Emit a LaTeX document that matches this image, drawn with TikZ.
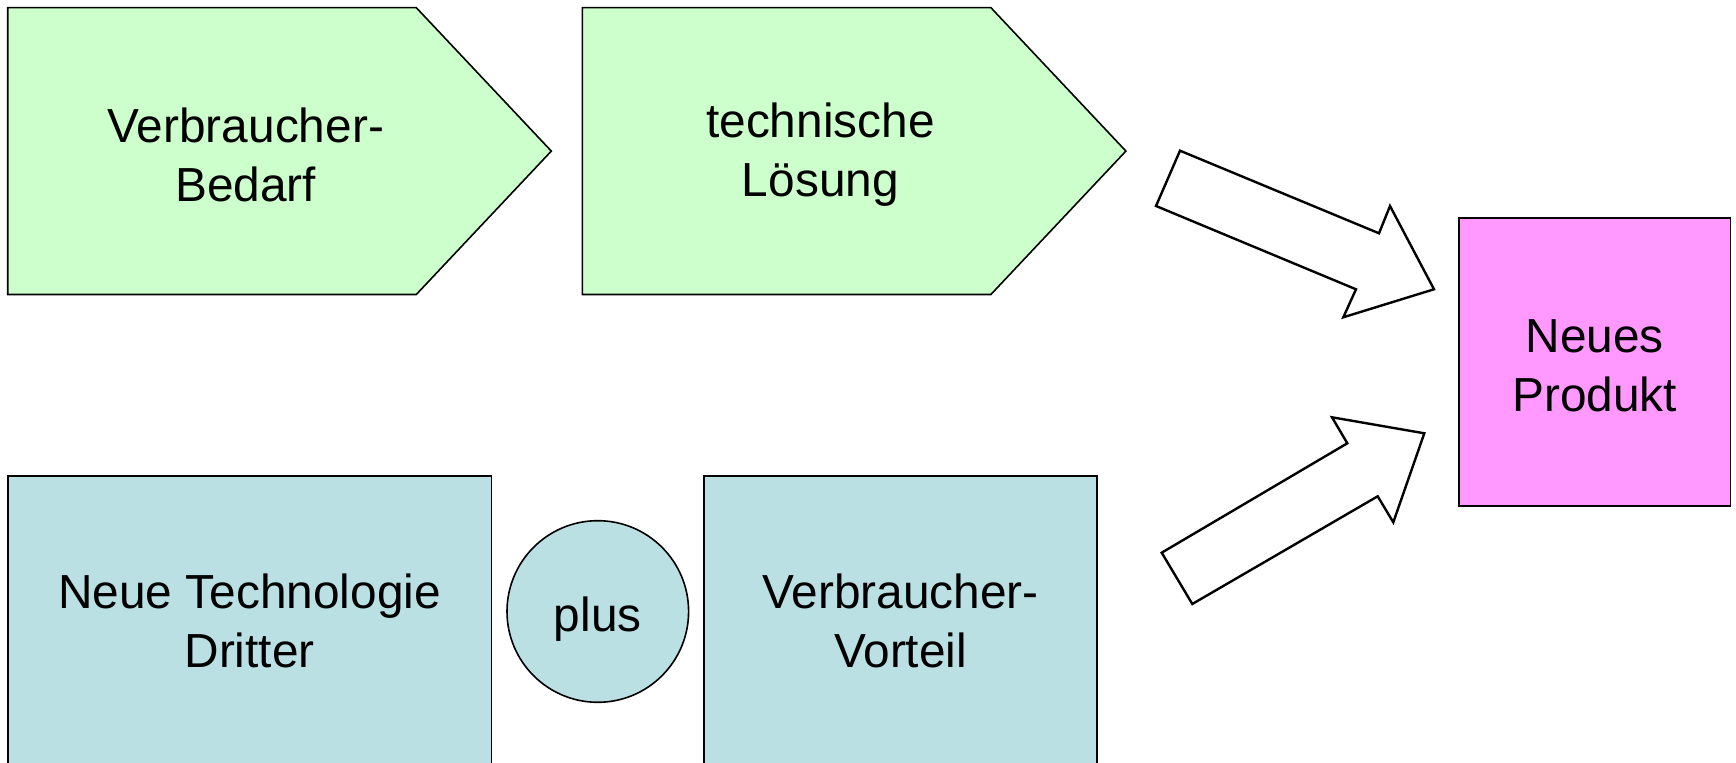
\documentclass[tikz,border=0pt]{standalone}
\usepackage{fontspec}
\setmainfont{Liberation Sans}
\usetikzlibrary{calc,positioning}

\definecolor{needgreen}{HTML}{CCFFCC}
\definecolor{techblue}{HTML}{BBE0E3}
\definecolor{prodpink}{HTML}{FF99FF}

\begin{document}
\begin{tikzpicture}[x=0.5pt,y=-0.5pt,line join=miter,text=black,
  node font=\fontsize{23.9}{29.4}\selectfont,
  txt/.style={align=center,inner sep=0pt},
  box/.style={rectangle,draw,line width=0.8pt,align=center},
  blockarrow/.style={draw,line width=1.2pt,fill=white}]

  \useasboundingbox (0,0) rectangle (1736,763);

  % upper row: two pentagons
  \draw[fill=needgreen,line width=0.8pt]
        (7.7,7.7) -- (416.3,7.7) -- (551.3,151.1) -- (416.3,294.5)
        -- (7.7,294.5) -- cycle;
  \draw[fill=needgreen,line width=0.8pt]
        (582.3,7.7) -- (990.9,7.7) -- (1125.9,151.1) -- (990.9,294.5)
        -- (582.3,294.5) -- cycle;
  \node (bedarf) at (245.8,155) [txt] {Verbraucher-\\Bedarf};
  \node (loesung) at (820.4,155) [txt] {technische\\Lösung};

  % lower row
  \node (technik) at (249.6,621) [box,fill=techblue,
        minimum width=241.9pt,minimum height=145pt] {Neue Technologie\\Dritter};
  \node (plus) at (597.8,611.5) [circle,draw,line width=0.8pt,fill=techblue,
        minimum size=90.8pt,inner sep=0pt] {};
  \node (plustext) at ($(plus)+(0,8)$) [txt] {plus};
  \node (vorteil) at (900.6,621) [box,fill=techblue,
        minimum width=196.5pt,minimum height=145pt] {Verbraucher-\\Vorteil};

  % result
  \node (produkt) at (1594.8,362) [box,fill=prodpink,
        minimum width=135.6pt,minimum height=143.9pt] {};
  \node (produkttext) at ($(produkt)+(0,4)$) [txt] {Neues\\Produkt};

  % block arrows towards the product
  \draw[blockarrow] (1180,150.7) -- (1379,233.3) -- (1390,206) -- (1434,289.3)
        -- (1343.3,317.3) -- (1356,289.3) -- (1156,206) -- cycle;
  \draw[blockarrow] (1161.7,552.7) -- (1347.3,443.3) -- (1332,417.3)
        -- (1424.3,433.3) -- (1393.3,522.3) -- (1377.7,496.3)
        -- (1192.3,604) -- cycle;

\end{tikzpicture}
\end{document}
